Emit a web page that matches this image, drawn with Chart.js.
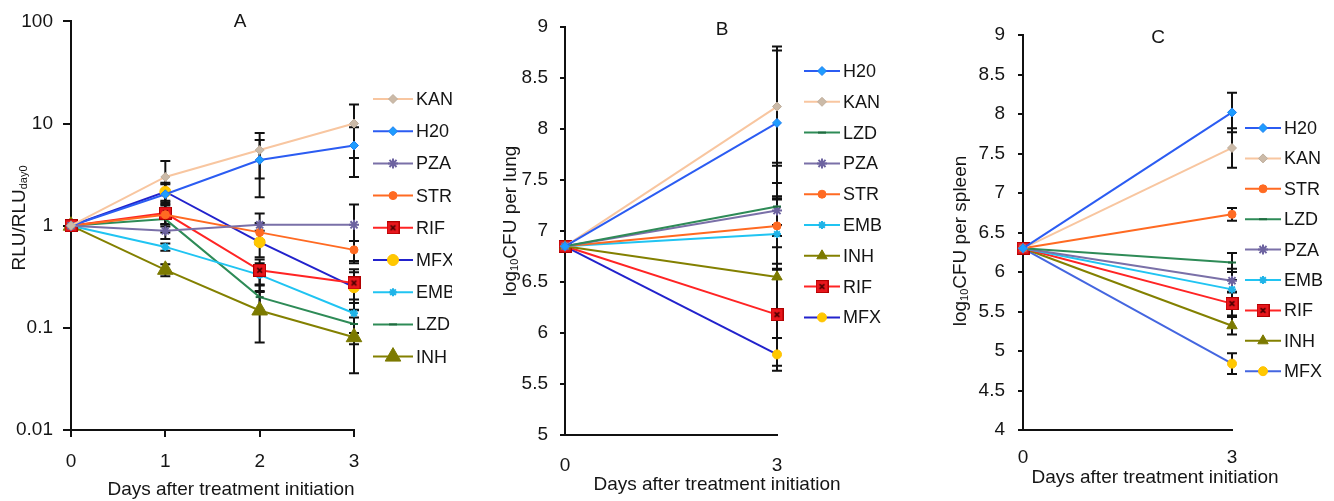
<!DOCTYPE html>
<html><head><meta charset="utf-8">
<script src="https://cdn.jsdelivr.net/npm/chart.js@4/dist/chart.umd.min.js"></script>
<style>
html,body{margin:0;padding:0;background:#fff;overflow:hidden}
#wrap{position:relative;width:1334px;height:501px;background:#fff}
.pane{position:absolute;top:0;height:501px}
</style></head><body>
<div id="wrap">
  <div class="pane" style="left:0;width:452px"><canvas id="cA"></canvas></div>
  <div class="pane" style="left:452px;width:448px"><canvas id="cB"></canvas></div>
  <div class="pane" style="left:900px;width:434px"><canvas id="cC"></canvas></div>
</div>
<script>
// ---------------- DATA ----------------
const daysA = [0, 1, 2, 3];
const daysBC = [0, 3];
const yTicksA = [0.01, 0.1, 1, 10, 100];
const yTickLabelsA = ['0.01', '0.1', '1', '10', '100'];
const xTicksBC = [0, 3];

// Panel A: RLU / RLU day0 (values and error bars)
const A_KAN = [1, 3.0, 5.5, 10.0];   const A_KAN_err = [0, 1.3, 2.6, 5.4];
const A_H20 = [1, 2.03, 4.4, 6.1];   const A_H20_err = [0, 0.6, 2.5, 3.1];
const A_PZA = [1, 0.89, 1.02, 1.02]; const A_PZA_err = [0, 0.15, 0.3, 0.59];
const A_STR = [1, 1.28, 0.86, 0.58]; const A_STR_err = [0, 0.3, 0.2, 0.13];
const A_RIF = [1, 1.33, 0.366, 0.275]; const A_RIF_err = [0, 0.3, 0.1, 0.1];
const A_MFX = [1, 2.15, 0.69, 0.25]; const A_MFX_err = [0, 0.4, 0.2, 0.1];
const A_EMB = [1, 0.62, 0.33, 0.139]; const A_EMB_err = [0, 0.05, 0.1, 0.05];
const A_LZD = [1, 1.16, 0.2, 0.109]; const A_LZD_err = [0, 0.3, 0.06, 0.04];
const A_INH = [1, 0.37, 0.148, 0.081]; const A_INH_err = [0, 0.05, 0.076, 0.045];

// Panel B: log10 CFU per lung
const B_H20 = [6.85, 8.06]; const B_H20_err = [0, 0.75];
const B_KAN = [6.85, 8.22]; const B_KAN_err = [0, 0.55];
const B_LZD = [6.85, 7.24]; const B_LZD_err = [0, 0.4];
const B_PZA = [6.85, 7.20]; const B_PZA_err = [0, 0.14];
const B_STR = [6.85, 7.05]; const B_STR_err = [0, 0.42];
const B_EMB = [6.85, 6.97]; const B_EMB_err = [0, 0.35];
const B_INH = [6.85, 6.55]; const B_INH_err = [0, 0.4];
const B_RIF = [6.85, 6.18]; const B_RIF_err = [0, 0.5];
const B_MFX = [6.85, 5.79]; const B_MFX_err = [0, 0.16];

// Panel C: log10 CFU per spleen
const C_H20 = [6.30, 8.02]; const C_H20_err = [0, 0.25];
const C_KAN = [6.30, 7.57]; const C_KAN_err = [0, 0.25];
const C_STR = [6.30, 6.73]; const C_STR_err = [0, 0.08];
const C_LZD = [6.30, 6.12]; const C_LZD_err = [0, 0.12];
const C_PZA = [6.30, 5.89]; const C_PZA_err = [0, 0.15];
const C_EMB = [6.30, 5.78]; const C_EMB_err = [0, 0.12];
const C_RIF = [6.30, 5.60]; const C_RIF_err = [0, 0.15];
const C_INH = [6.30, 5.32]; const C_INH_err = [0, 0.11];
const C_MFX = [6.30, 4.84]; const C_MFX_err = [0, 0.13];

const legendA = ['KAN', 'H20', 'PZA', 'STR', 'RIF', 'MFX', 'EMB', 'LZD', 'INH'];
const legendB = ['H20', 'KAN', 'LZD', 'PZA', 'STR', 'EMB', 'INH', 'RIF', 'MFX'];
const legendC = ['H20', 'KAN', 'STR', 'LZD', 'PZA', 'EMB', 'RIF', 'INH', 'MFX'];

const seriesA = {KAN:[A_KAN,A_KAN_err],H20:[A_H20,A_H20_err],PZA:[A_PZA,A_PZA_err],STR:[A_STR,A_STR_err],RIF:[A_RIF,A_RIF_err],MFX:[A_MFX,A_MFX_err],EMB:[A_EMB,A_EMB_err],LZD:[A_LZD,A_LZD_err],INH:[A_INH,A_INH_err]};
const seriesB = {H20:[B_H20,B_H20_err],KAN:[B_KAN,B_KAN_err],LZD:[B_LZD,B_LZD_err],PZA:[B_PZA,B_PZA_err],STR:[B_STR,B_STR_err],EMB:[B_EMB,B_EMB_err],INH:[B_INH,B_INH_err],RIF:[B_RIF,B_RIF_err],MFX:[B_MFX,B_MFX_err]};
const seriesC = {H20:[C_H20,C_H20_err],KAN:[C_KAN,C_KAN_err],STR:[C_STR,C_STR_err],LZD:[C_LZD,C_LZD_err],PZA:[C_PZA,C_PZA_err],EMB:[C_EMB,C_EMB_err],RIF:[C_RIF,C_RIF_err],INH:[C_INH,C_INH_err],MFX:[C_MFX,C_MFX_err]};

// ---------------- STYLES ----------------
const FONT = "'Liberation Sans', Arial, sans-serif";
function rifMarker(size){
  const c = document.createElement('canvas'); c.width = size; c.height = size;
  const g = c.getContext('2d');
  g.fillStyle = '#e8161c'; g.fillRect(0,0,size,size);
  g.strokeStyle = '#b00000'; g.lineWidth = 1; g.strokeRect(0.5,0.5,size-1,size-1);
  g.strokeStyle = '#4a0000'; g.lineWidth = 1.6;
  const m = size*0.32;
  g.beginPath(); g.moveTo(m,m); g.lineTo(size-m,size-m); g.moveTo(size-m,m); g.lineTo(m,size-m); g.stroke();
  return c;
}
const rifImg = rifMarker(13);
const styles = {
  KAN: {line:'#f8c6a0', fill:'#cbbaa8', border:'#bfae9c', ps:'rectRot', r:4.5},
  H20: {line:'#2b5cf2', fill:'#1e9cff', border:'#1e7ff0', ps:'rectRot', r:4.5},
  PZA: {line:'#7a70a8', fill:'#6d63a0', border:'#6d63a0', ps:'star', r:5},
  STR: {line:'#ff6a22', fill:'#ff6a22', border:'#ff6a22', ps:'circle', r:4},
  RIF: {line:'#ff2424', fill:'#e8161c', border:'#e8161c', ps:rifImg, r:6.5},
  MFX: {line:'#2222cc', fill:'#ffc800', border:'#ffc000', ps:'circle', r:5.5},
  EMB: {line:'#20c4f2', fill:'#20c4f2', border:'#20b4e8', ps:'star', r:4},
  LZD: {line:'#2e8b57', fill:'#1f6b3f', border:'#1f6b3f', ps:'line', r:4},
  INH: {line:'#838000', fill:'#7c7a00', border:'#7c7a00', ps:'triangle', r:9}
};
const stylesSmall = {INH: {r:6}, MFX:{r:4.5}, RIF:{r:6.5}};
const stylesC = {MFX: {line:'#4466e0'}};

function buildDatasets(order, series, days, over){
  return order.map(k => {
    const s = Object.assign({}, styles[k], (over||{})[k] || {});
    const [vals, errs] = series[k];
    return {
      label: k,
      data: days.map((d,i)=>({x:d, y:vals[i]})),
      errs: errs,
      borderColor: s.line, borderWidth: 2,
      pointStyle: s.ps, pointRadius: s.r, pointBackgroundColor: s.fill,
      pointBorderColor: s.border, pointBorderWidth: s.ps==='line'||s.ps==='star'?2:1,
      fill:false, tension:0, clip:false
    };
  });
}

// ---------------- PLUGIN: error bars, titles, legend ----------------
const decoPlugin = {
  id: 'deco',
  beforeDatasetsDraw(chart){
    const ctx = chart.ctx; const xs = chart.scales.x, ys = chart.scales.y;
    const cap = chart.options.plugins.deco.cap;
    ctx.save(); ctx.strokeStyle = '#111'; ctx.lineWidth = 2;
    chart.data.datasets.forEach(ds => {
      ds.data.forEach((p,i) => {
        const e = ds.errs[i]; if (!e) return;
        const x = xs.getPixelForValue(p.x);
        const lo = Math.max(p.y - e, 1e-6);
        const yT = ys.getPixelForValue(p.y + e), yB = ys.getPixelForValue(lo);
        ctx.beginPath();
        ctx.moveTo(x, yT); ctx.lineTo(x, yB);
        ctx.moveTo(x-cap, yT); ctx.lineTo(x+cap, yT);
        ctx.moveTo(x-cap, yB); ctx.lineTo(x+cap, yB);
        ctx.stroke();
      });
    });
    ctx.restore();
  },
  afterDraw(chart){
    const o = chart.options.plugins.deco; const ctx = chart.ctx;
    ctx.save();
    ctx.fillStyle = '#151515';
    ctx.font = '19px ' + FONT; ctx.textAlign = 'center'; ctx.textBaseline = 'middle';
    ctx.fillText(o.letter, o.letterX, o.letterY);
    ctx.fillText('Days after treatment initiation', o.xtX, o.xtY);
    ctx.save();
    ctx.translate(o.ytX, o.ytY); ctx.rotate(-Math.PI/2);
    const parts = o.ytParts;
    let total = 0;
    parts.forEach(p => { ctx.font = (p[1] ? '11px ' : '19px ') + FONT; total += ctx.measureText(p[0]).width; });
    let cx = -total/2; ctx.textAlign = 'left'; ctx.textBaseline = 'middle';
    parts.forEach(p => {
      ctx.font = (p[1] ? '11px ' : '19px ') + FONT;
      ctx.fillText(p[0], cx, p[1] ? 4 : 0);
      cx += ctx.measureText(p[0]).width;
    });
    ctx.restore();
    const L = o.legend;
    chart.data.datasets.forEach((ds, i) => {
      const y = L.y0 + i*L.dy;
      ctx.strokeStyle = ds.borderColor; ctx.lineWidth = 2;
      ctx.beginPath(); ctx.moveTo(L.x, y); ctx.lineTo(L.x + L.len, y); ctx.stroke();
      ctx.fillStyle = ds.pointBackgroundColor; ctx.strokeStyle = ds.pointBorderColor;
      ctx.lineWidth = ds.pointBorderWidth;
      Chart.helpers.drawPoint(ctx, {pointStyle: ds.pointStyle, rotation: 0, radius: ds.pointRadius, borderWidth: ds.pointBorderWidth}, L.x + L.len/2, y);
      ctx.fillStyle = '#151515'; ctx.font = '18px ' + FONT; ctx.textAlign = 'left'; ctx.textBaseline = 'middle';
      ctx.fillText(ds.label, L.x + L.len + 3, y + 1);
    });
    ctx.restore();
  }
};

function axisCommon(tickLen, pad){
  return {
    grid: {display:true, drawOnChartArea:false, drawTicks:tickLen>0, tickLength:tickLen, color:'#111', lineWidth:2},
    border: {display:true, color:'#111', width:2},
    ticks: {font:{family:FONT, size:19}, color:'#151515', padding:pad}
  };
}

function makeChart(id, datasets, cfg){
  const xAx = axisCommon(cfg.xTick, cfg.xPad);
  Object.assign(xAx, {type:'linear', min:0, max:3, afterFit: s => { s.height = cfg.xH; }});
  xAx.ticks.stepSize = 1;
  if (cfg.xTicks) xAx.afterBuildTicks = s => { s.ticks = cfg.xTicks.map(v=>({value:v})); };
  const yAx = axisCommon(cfg.yTick, cfg.yPad);
  Object.assign(yAx, cfg.y, {afterFit: s => { s.width = cfg.yW; }});
  return new Chart(document.getElementById(id), {
    type: 'line',
    data: {datasets},
    options: {
      responsive:true, maintainAspectRatio:false, animation:false, devicePixelRatio:1,
      layout: {padding: {left:0, top:cfg.top, right:cfg.right, bottom:0}},
      scales: {x: xAx, y: yAx},
      plugins: {legend:{display:false}, tooltip:{enabled:false}, deco: cfg.deco}
    },
    plugins: [decoPlugin]
  });
}

const plainNum = v => String(Math.round(v * 10) / 10);

// Panel A
makeChart('cA', buildDatasets(legendA, seriesA, daysA), {
  xTick:7, xPad:13, xH:71, yTick:8, yPad:10, yW:71, top:16, right:98,
  y: {type:'logarithmic', min:0.01, max:100,
      afterBuildTicks: s => { s.ticks = yTicksA.map(v=>({value:v})); },
      ticks: {font:{family:FONT,size:19}, color:'#151515', padding:10,
              callback: (v) => { const i = yTicksA.indexOf(v); return i>=0 ? yTickLabelsA[i] : ''; }}},
  deco: {cap:5, letter:'A', letterX:240, letterY:22, xtX:231, xtY:490, ytX:20, ytY:218,
         ytParts:[['RLU/RLU',false],['day0',true]],
         legend:{x:373, y0:99, dy:32.2, len:40}}
});

// Panel B
makeChart('cB', buildDatasets(legendB, seriesB, daysBC, stylesSmall), {
  xTick:0, xPad:19, xH:66, yTick:5, yPad:12, yW:113, top:27, right:123, xTicks:xTicksBC,
  y: {type:'linear', min:5, max:9, ticks:{stepSize:0.5, font:{family:FONT,size:19}, color:'#151515', padding:12, callback: plainNum}},
  deco: {cap:5, letter:'B', letterX:270, letterY:30, xtX:265, xtY:485, ytX:59, ytY:221,
         ytParts:[['log',false],['10',true],['CFU per lung',false]],
         legend:{x:352, y0:71, dy:30.8, len:36}}
});

// Panel C
const overC = Object.assign({}, stylesSmall); overC.MFX = Object.assign({}, stylesSmall.MFX, stylesC.MFX);
makeChart('cC', buildDatasets(legendC, seriesC, daysBC, overC), {
  xTick:0, xPad:16, xH:71, yTick:5, yPad:13, yW:123, top:35, right:102, xTicks:xTicksBC,
  y: {type:'linear', min:4, max:9, ticks:{stepSize:0.5, font:{family:FONT,size:19}, color:'#151515', padding:13, callback: plainNum}},
  deco: {cap:5, letter:'C', letterX:258, letterY:38, xtX:255, xtY:478, ytX:61, ytY:241,
         ytParts:[['log',false],['10',true],['CFU per spleen',false]],
         legend:{x:345, y0:128, dy:30.4, len:36}}
});
</script>
</body></html>
